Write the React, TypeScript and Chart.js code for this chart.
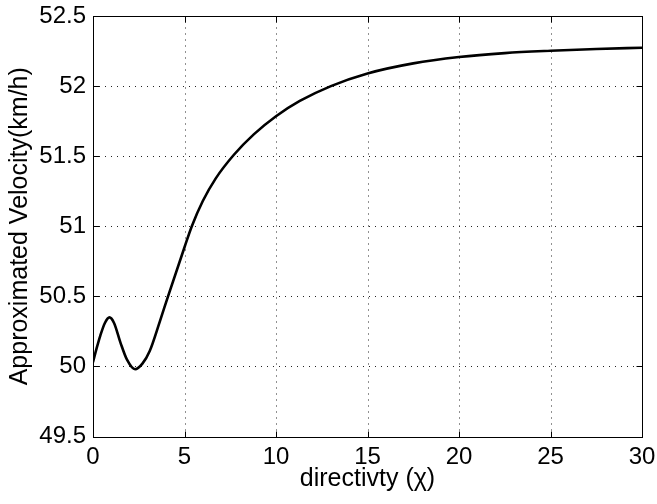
import React, { useEffect, useRef } from "react";
import { Chart, registerables } from "chart.js";

Chart.register(...registerables);

const xValues = [0, 0.2, 0.4, 0.65, 0.9, 1.15, 1.5, 1.85, 2.3, 2.7, 3.1, 3.65, 4.1, 5.0, 5.4, 6.0, 6.7, 7.7, 8.8, 10, 11.3, 13, 15, 17.5, 20, 22.5, 25, 27.5, 30];
const yValues = [50.03, 50.13, 50.22, 50.31, 50.35, 50.31, 50.17, 50.05, 49.98, 50.02, 50.11, 50.32, 50.5, 50.85, 51.0, 51.18, 51.34, 51.51, 51.657, 51.785, 51.894, 52.0, 52.09, 52.162, 52.207, 52.235, 52.252, 52.265, 52.274];
const xTicks = [0, 5, 10, 15, 20, 25, 30];
const yTicks = [49.5, 50, 50.5, 51, 51.5, 52, 52.5];
const xTitle = "directivty (\u03C7)";
const yTitle = "Approximated Velocity(km/h)";

const FONT = "'Liberation Sans', Arial, Helvetica, sans-serif";

const framePlugin = {
  id: "matlabFrame",
  beforeDatasetsDraw(chart: any) {
    const { ctx, chartArea: a, scales } = chart;
    ctx.save();
    ctx.strokeStyle = "#222";
    ctx.lineWidth = 1;
    ctx.setLineDash([1, 5]);
    xTicks.forEach((v) => {
      if (v === xTicks[0] || v === xTicks[xTicks.length - 1]) return;
      const px = Math.round(scales.x.getPixelForValue(v)) + 0.5;
      ctx.beginPath();
      ctx.moveTo(px, a.bottom);
      ctx.lineTo(px, a.top);
      ctx.stroke();
    });
    yTicks.forEach((v) => {
      if (v === yTicks[0] || v === yTicks[yTicks.length - 1]) return;
      const py = Math.round(scales.y.getPixelForValue(v)) + 0.5;
      ctx.beginPath();
      ctx.moveTo(a.left, py);
      ctx.lineTo(a.right, py);
      ctx.stroke();
    });
    ctx.restore();
  },
  afterDraw(chart: any) {
    const { ctx, chartArea: a, scales } = chart;
    ctx.save();
    ctx.strokeStyle = "#000";
    ctx.lineWidth = 1;
    ctx.setLineDash([]);
    const l = Math.round(a.left) + 0.5;
    const r = Math.round(a.right) + 0.5;
    const t = Math.round(a.top) + 0.5;
    const b = Math.round(a.bottom) + 0.5;
    ctx.strokeRect(l, t, r - l, b - t);
    const len = 6;
    ctx.beginPath();
    xTicks.forEach((v) => {
      const px = Math.round(scales.x.getPixelForValue(v)) + 0.5;
      ctx.moveTo(px, b);
      ctx.lineTo(px, b - len);
      ctx.moveTo(px, t);
      ctx.lineTo(px, t + len);
    });
    yTicks.forEach((v) => {
      const py = Math.round(scales.y.getPixelForValue(v)) + 0.5;
      ctx.moveTo(l, py);
      ctx.lineTo(l + len, py);
      ctx.moveTo(r, py);
      ctx.lineTo(r - len, py);
    });
    ctx.stroke();
    ctx.restore();
  },
};

export default function App() {
  const ref = useRef<HTMLCanvasElement | null>(null);
  useEffect(() => {
    if (!ref.current) return;
    const points = xValues.map((x, i) => ({ x, y: yValues[i] }));
    const chart = new Chart(ref.current, {
      type: "line",
      data: {
        datasets: [
          {
            data: points,
            borderColor: "#000",
            borderWidth: 2.6,
            pointRadius: 0,
            fill: false,
            cubicInterpolationMode: "monotone",
          },
        ],
      },
      options: {
        responsive: false,
        animation: false,
        layout: { padding: { top: 16, right: 15, left: 0, bottom: 0 } },
        plugins: { legend: { display: false }, tooltip: { enabled: false } },
        scales: {
          x: {
            type: "linear",
            min: 0,
            max: 30,
            grid: { display: false, drawTicks: false },
            border: { display: false },
            afterFit: (s: any) => {
              s.height = 67.5;
              s.paddingLeft = 0;
              s.paddingRight = 0;
            },
            afterBuildTicks: (s: any) => {
              s.ticks = xTicks.map((v) => ({ value: v }));
            },
            ticks: {
              color: "#000",
              padding: 6,
              maxRotation: 0,
              font: { family: FONT, size: 24 },
              callback: (v: any) => String(v),
            },
            title: {
              display: true,
              text: xTitle,
              color: "#000",
              font: { family: FONT, size: 25, lineHeight: 1.2 },
              padding: { top: 0, bottom: 10 },
            },
          },
          y: {
            type: "linear",
            min: 49.5,
            max: 52.5,
            grid: { display: false, drawTicks: false },
            border: { display: false },
            afterFit: (s: any) => {
              s.width = 93;
              s.paddingTop = 0;
              s.paddingBottom = 0;
            },
            afterBuildTicks: (s: any) => {
              s.ticks = yTicks.map((v) => ({ value: v }));
            },
            ticks: {
              color: "#000",
              padding: 7,
              font: { family: FONT, size: 24 },
              callback: (v: any) => String(v),
            },
            title: {
              display: true,
              text: yTitle,
              color: "#000",
              font: { family: FONT, size: 25, lineHeight: 1.2 },
              padding: { top: 5, bottom: 0 },
            },
          },
        },
      },
      plugins: [framePlugin],
    });
    return () => chart.destroy();
  }, []);
  return (
    <div style={{ position: "fixed", left: 0, top: 0, width: 657, height: 504, background: "#fff" }}>
      <canvas ref={ref} width={657} height={504} style={{ display: "block" }} />
    </div>
  );
}
